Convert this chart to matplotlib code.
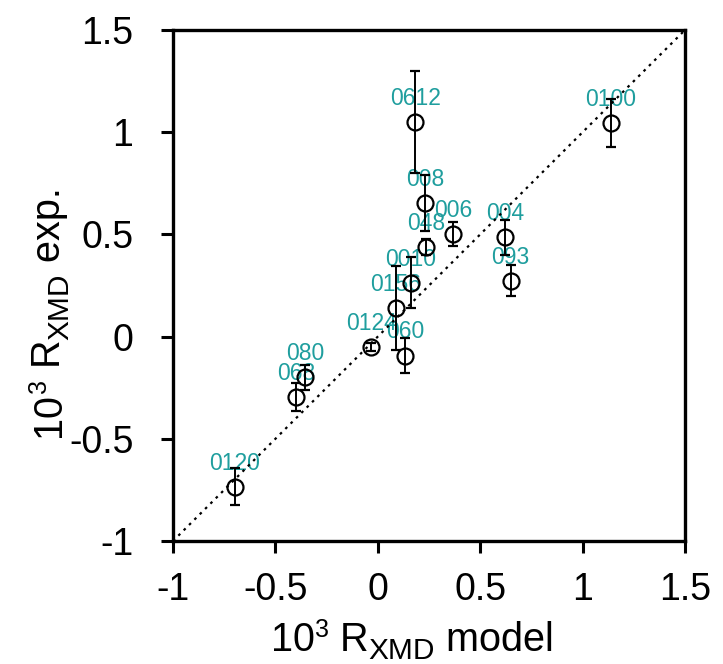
import numpy as np
import matplotlib
matplotlib.use("Agg")
import matplotlib.pyplot as plt
from matplotlib.transforms import IdentityTransform

plt.rcParams['font.family'] = ['Liberation Sans', 'DejaVu Sans']

# reflections (hkl) with model vs. measured XMD ratio, x1e3
labels = ['0612', '0100', '008', '048', '006', '004', '093', '0010',
          '0156', '0124', '060', '080', '068', '0120']
model = [0.182, 1.137, 0.230, 0.235, 0.369, 0.621, 0.649, 0.161,
         0.089, -0.033, 0.133, -0.355, -0.399, -0.697]
exp = [1.051, 1.043, 0.652, 0.437, 0.502, 0.486, 0.273, 0.264,
       0.140, -0.049, -0.093, -0.199, -0.297, -0.734]
err = [0.25, 0.117, 0.137, 0.04, 0.057, 0.085, 0.075, 0.125,
       0.205, 0.02, 0.087, 0.06, 0.068, 0.09]

lim = (-1, 1.5)
ticks = [-1, -0.5, 0, 0.5, 1, 1.5]
tick_labels = ['-1', '-0.5', '0', '0.5', '1', '1.5']

# axis titles as (text, fontsize, baseline shift in px)
xtitle = [('10', 28.5, 0), ('3', 18, 14), (' R', 28.5, 0), ('XMD', 21.5, -8), (' model', 28.5, 0)]
ytitle = [('10', 28.5, 0), ('3', 18, 14), (' R', 28.5, 0), ('XMD', 21.5, -8), (' exp.', 28.5, 0)]

W, H = 723, 664
fig = plt.figure(figsize=(W / 100, H / 100), dpi=100)
ax = fig.add_axes([173 / W, 1 - 541 / H, 512 / W, 511 / H])

ax.plot(lim, lim, color='black', linestyle=(0, (1.2, 2.2)), linewidth=1.6, zorder=2)
ax.errorbar(model, exp, yerr=err, fmt='o', mfc='none', mec='black', mew=1.6,
            ms=11.5, ecolor='black', elinewidth=1.4, capsize=3.3, capthick=1.4,
            color='black', zorder=3)

for lab, x, y in zip(labels, model, exp):
    ax.annotate(lab, (x, y), xytext=(0, 17), textcoords='offset points',
                ha='center', va='center', color='#1f9e9e', fontsize=16.5,
                zorder=1)

ax.set_xlim(lim)
ax.set_ylim(lim)
ax.set_xticks(ticks)
ax.set_xticklabels(tick_labels)
ax.set_yticks(ticks)
ax.set_yticklabels(tick_labels)
for s in ax.spines.values():
    s.set_linewidth(2.4)
ax.tick_params(direction='out', length=8.5, width=2.2, labelsize=27)
ax.tick_params(axis='x', pad=14)
ax.tick_params(axis='y', pad=20)


def write_title(parts, x, y, vertical=False):
    # lay out pieces one after another in pixel coords, so sub/superscripts
    # can have their own size
    r = fig.canvas.get_renderer()
    for txt, size, shift in parts:
        if vertical:
            t = fig.text(x - shift, y, txt, fontsize=size, rotation=90,
                         rotation_mode='anchor', ha='left', va='baseline',
                         transform=IdentityTransform())
            y += t.get_window_extent(r).height
        else:
            t = fig.text(x, y + shift, txt, fontsize=size, ha='left',
                         va='baseline', transform=IdentityTransform())
            x += t.get_window_extent(r).width


write_title(xtitle, 271, H - 651)
write_title(ytitle, 60, H - 437, vertical=True)

fig.savefig('out.png', dpi=100)
